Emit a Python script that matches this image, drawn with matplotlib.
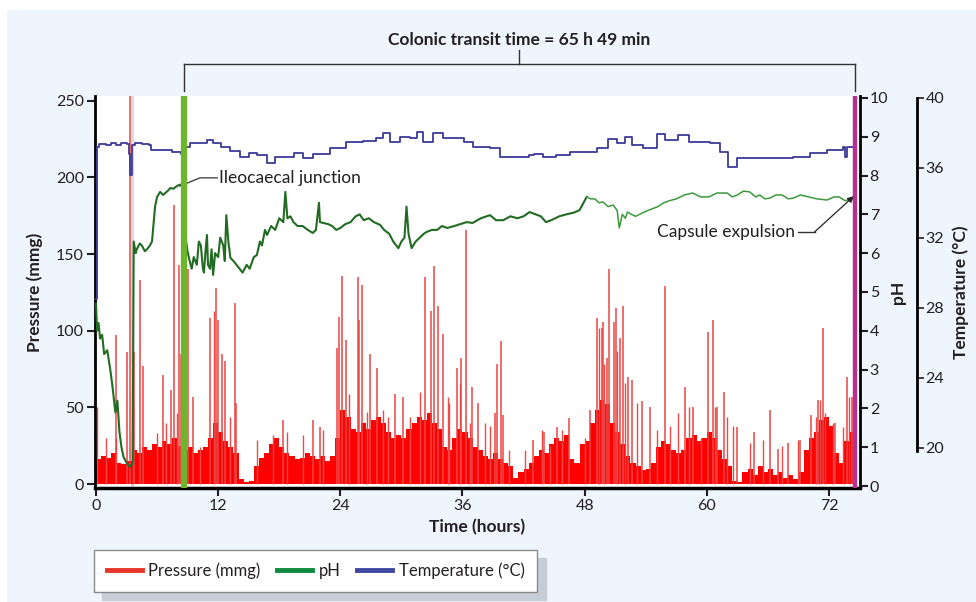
import numpy as np
import matplotlib
matplotlib.use('Agg')
import matplotlib.pyplot as plt
from matplotlib.lines import Line2D
from matplotlib.patches import Rectangle

plt.rcParams['font.family'] = ['Lato', 'DejaVu Sans']
plt.rcParams['text.color'] = '#231f20'
plt.rcParams['axes.labelcolor'] = '#231f20'
plt.rcParams['xtick.color'] = '#231f20'
plt.rcParams['ytick.color'] = '#231f20'

# ---- data ----
# pressure baseline, one value every half hour from 0 h
pressure_base = [
    16, 18, 17, 20, 14, 13, 15, 22, 20, 24,
    22, 26, 24, 28, 26, 30, 25, 22, 24, 20,
    22, 24, 30, 40, 34, 28, 24, 20, 3, 1,
    2, 12, 17, 20, 26, 30, 24, 20, 18, 16,
    17, 20, 18, 16, 18, 15, 18, 30, 48, 44,
    36, 34, 40, 36, 42, 44, 40, 34, 30, 32,
    30, 36, 40, 44, 42, 46, 40, 36, 24, 22,
    30, 36, 34, 30, 24, 22, 18, 16, 20, 16,
    14, 12, 4, 8, 10, 14, 18, 22, 20, 26,
    30, 28, 32, 16, 14, 26, 28, 40, 48, 55,
    52, 40, 34, 26, 18, 14, 12, 9, 10, 14,
    24, 28, 26, 22, 20, 22, 30, 32, 28, 30,
    34, 30, 22, 16, 12, 2, 1, 8, 10, 6,
    12, 8, 10, 6, 8, 4, 6, 3, 8, 22,
    30, 34, 42, 44, 38, 20, 14, 28, 34, 60,
]

# big contractions (time h, pressure mmHg)
spike_t = [1.96, 3.0, 3.3, 3.73, 4.3, 4.6, 6.6, 7.4, 7.7, 8.2,
           8.3, 9.0, 9.5, 11.2, 11.8, 12.0, 12.4, 12.7, 13.7, 13.8,
           18.4, 21.3, 22.0, 23.7, 23.9, 24.2, 24.6, 25.7, 25.8, 26.1,
           26.9, 27.6, 29.4, 30.2, 32.3, 32.9, 33.2, 33.6, 34.1, 35.5,
           35.9, 36.3, 36.9, 37.5, 39.2, 39.4, 39.8, 40.0, 42.9, 44.0,
           45.3, 46.5, 48.5, 49.2, 49.7, 49.8, 50.2, 50.4, 50.9, 51.1,
           51.5, 51.8, 52.3, 52.7, 53.6, 54.4, 55.9, 57.9, 58.6, 60.1,
           60.6, 61.0, 61.7, 63.0, 64.6, 66.2, 67.0, 68.0, 69.2, 70.2,
           70.9, 71.4, 72.6, 73.8, 74.3]
spike_p = [97, 86, 255, 86, 133, 77, 71, 61, 182, 143,
           85, 140, 57, 108, 128, 107, 85, 80, 118, 53,
           42, 42, 37, 89, 109, 136, 94, 135, 107, 130,
           85, 76, 59, 57, 135, 113, 142, 116, 98, 76,
           82, 166, 63, 53, 46, 78, 93, 45, 29, 34,
           37, 43, 48, 108, 102, 106, 82, 140, 106, 115,
           95, 116, 70, 68, 54, 50, 129, 63, 50, 99,
           107, 50, 60, 37, 34, 48, 23, 27, 29, 45,
           55, 102, 40, 70, 57]

# smaller contractions
minor_t = [0.1, 1.0, 2.0, 3.6, 6.0, 6.9, 7.95, 10.2, 11.6, 13.2,
           15.8, 17.4, 18.8, 20.3, 22.3, 24.9, 26.6, 28.2, 28.7, 30.8,
           31.8, 34.6, 34.7, 35.8, 36.7, 38.2, 38.7, 40.6, 42.1, 43.8,
           44.6, 45.8, 48.0, 49.4, 49.9, 51.2, 52.0, 53.1, 55.1, 56.4,
           57.2, 58.3, 59.4, 60.8, 62.0, 62.6, 64.2, 65.5, 67.4, 69.0,
           70.7, 71.1, 71.6, 72.4, 73.4, 74.0]
minor_p = [50, 30, 30, 50, 33, 40, 46, 24, 113, 44,
           29, 32, 34, 32, 35, 59, 47, 48, 44, 44,
           60, 57, 53, 66, 40, 40, 38, 22, 22, 35,
           25, 35, 30, 102, 78, 87, 66, 53, 35, 38,
           46, 50, 30, 50, 44, 38, 27, 29, 25, 29,
           44, 55, 46, 40, 37, 57]

ph_t = [0.0, 0.1, 0.25, 0.4, 0.6, 0.8, 1.1, 1.4, 1.6, 1.9,
        2.1, 2.3, 2.5, 2.7, 3.0, 3.3, 3.5, 3.6, 3.7, 3.9,
        4.0, 4.3, 4.5, 4.8, 5.0, 5.3, 5.5, 5.8, 6.0, 6.3,
        6.6, 6.8, 7.1, 7.3, 7.6, 7.8, 8.0, 8.25, 8.6, 8.8,
        9.0, 9.2, 9.4, 9.6, 9.9, 10.1, 10.3, 10.5, 10.6, 10.8,
        10.9, 11.0, 11.2, 11.35, 11.5, 11.7, 12.0, 12.2, 12.5, 12.65,
        12.8, 13.0, 13.2, 13.5, 13.8, 14.1, 14.4, 14.8, 15.1, 15.5,
        15.8, 16.1, 16.3, 16.6, 16.8, 17.2, 17.6, 18.0, 18.4, 18.6,
        18.8, 19.1, 19.4, 19.8, 20.3, 20.8, 21.3, 21.6, 21.9, 22.0,
        22.3, 22.8, 23.2, 23.6, 24.0, 24.5, 25.0, 25.5, 25.9, 26.3,
        26.8, 27.3, 27.9, 28.3, 28.8, 29.2, 29.7, 30.0, 30.3, 30.5,
        30.7, 31.0, 31.4, 31.8, 32.2, 32.5, 33.0, 33.5, 34.0, 34.5,
        35.2, 35.8, 36.4, 37.0, 37.8, 38.7, 39.3, 40.0, 40.7, 41.4,
        42.0, 42.6, 43.2, 43.7, 44.2, 44.8, 45.5, 46.2, 47.0, 47.5,
        48.2, 48.6, 49.0, 49.4, 49.8, 50.3, 50.8, 51.2, 51.4, 51.7,
        52.0, 52.2, 52.6, 53.0, 53.7, 54.2, 54.7, 55.2, 55.7, 56.3,
        57.0, 57.8, 58.6, 59.4, 60.2, 61.0, 62.0, 62.5, 63.0, 63.6,
        64.2, 64.8, 65.2, 65.7, 66.2, 66.8, 67.4, 68.0, 68.5, 69.2,
        70.0, 70.8, 71.8, 72.5, 73.0, 73.6, 74.4]
ph_vals = [4.7, 4.0, 4.2, 3.8, 3.9, 3.4, 3.5, 3.0, 2.6, 1.9,
           2.2, 1.4, 1.0, 0.75, 0.6, 0.5, 0.55, 0.6, 6.3, 6.0,
           6.1, 6.25, 6.2, 6.05, 6.1, 6.2, 6.3, 7.2, 7.45, 7.58,
           7.5, 7.55, 7.62, 7.68, 7.66, 7.7, 7.74, 7.76, 7.8, 6.4,
           6.03, 5.8, 5.6, 5.9, 5.7, 6.3, 6.2, 5.6, 5.5, 6.2,
           6.47, 5.7, 5.6, 6.1, 5.44, 6.0, 5.9, 6.4, 6.2, 5.8,
           6.98, 6.3, 5.88, 5.8, 5.7, 5.6, 5.5, 5.7, 5.6, 5.9,
           5.95, 6.3, 6.2, 6.6, 6.47, 6.7, 6.6, 6.9, 6.8, 7.58,
           6.9, 6.95, 6.8, 6.7, 6.7, 6.6, 6.52, 6.6, 7.3, 6.8,
           6.78, 6.75, 6.7, 6.6, 6.65, 6.75, 6.8, 6.95, 7.0, 6.85,
           6.9, 6.8, 6.73, 6.6, 6.5, 6.3, 6.13, 6.3, 6.4, 7.2,
           6.5, 6.13, 6.3, 6.4, 6.5, 6.55, 6.6, 6.6, 6.7, 6.65,
           6.7, 6.75, 6.8, 6.78, 6.9, 6.98, 6.85, 6.85, 6.95, 6.9,
           6.95, 7.06, 7.0, 6.95, 6.8, 6.86, 6.95, 7.0, 7.05, 7.11,
           7.45, 7.4, 7.4, 7.3, 7.32, 7.2, 7.24, 7.1, 6.65, 7.0,
           6.9, 7.06, 7.0, 6.95, 7.04, 7.1, 7.15, 7.2, 7.29, 7.35,
           7.4, 7.5, 7.55, 7.45, 7.45, 7.55, 7.55, 7.45, 7.5, 7.6,
           7.58, 7.45, 7.5, 7.4, 7.42, 7.5, 7.5, 7.4, 7.42, 7.5,
           7.45, 7.4, 7.37, 7.45, 7.45, 7.35, 7.42]

temp_t = [0.0, 0.1, 0.3, 1.0, 1.5, 2.0, 2.5, 3.0, 3.2, 3.35,
          3.5, 3.8, 4.5, 5.2, 5.4, 6.5, 7.5, 8.3, 8.8, 9.2,
          10.0, 10.9, 11.5, 12.3, 13.2, 14.1, 15.0, 15.8, 16.8, 17.6,
          18.6, 19.4, 20.3, 21.3, 23.0, 24.6, 26.2, 27.5, 28.2, 28.9,
          29.9, 30.8, 31.5, 32.1, 33.1, 34.1, 36.1, 37.0, 38.7, 39.7,
          41.4, 42.5, 43.0, 43.9, 45.2, 46.6, 49.2, 50.3, 51.2, 52.0,
          52.7, 53.7, 55.1, 55.9, 57.2, 58.3, 60.3, 61.3, 62.1, 63.0,
          65.2, 68.5, 70.1, 71.8, 73.4, 73.6, 73.8, 74.6]
temps = [28.5, 37.2, 37.35, 37.3, 37.45, 37.3, 37.4, 37.35, 36.8, 35.6,
         37.3, 37.43, 37.35, 37.3, 37.0, 37.05, 36.9, 36.8, 37.2, 37.45,
         37.4, 37.6, 37.4, 37.2, 36.95, 36.65, 36.85, 36.75, 36.3, 36.6,
         36.63, 36.86, 36.57, 36.8, 37.14, 37.5, 37.55, 37.7, 38.0, 37.5,
         37.77, 37.7, 38.06, 37.5, 38.0, 37.71, 37.5, 37.2, 37.14, 36.63,
         36.63, 36.75, 36.8, 36.63, 36.75, 36.9, 37.14, 37.66, 37.43, 37.77,
         37.3, 37.14, 37.94, 37.6, 37.89, 37.5, 37.43, 36.9, 36.06, 36.57,
         36.57, 36.63, 36.86, 37.03, 37.2, 36.6, 37.2, 37.3]

ileocaecal_h = 8.6
expulsion_h = 74.6
x_ticks = [0, 12, 24, 36, 48, 60, 72]

# ---- figure ----
fig = plt.figure(figsize=(9.76, 6.02), dpi=100, facecolor='white')
fig.patches.append(Rectangle((7 / 976, 0), 1, 1 - 10 / 602, transform=fig.transFigure,
                             facecolor='#eef5fd', edgecolor='none', zorder=-10))

ax = fig.add_axes([95 / 976, 1 - 488 / 602, (860 - 95) / 976, (488 - 96) / 602])
ax.set_facecolor('white')
ax_ph = ax.twinx()
ax_t = ax.twinx()

base_t = np.arange(len(pressure_base)) * 0.5
ax.axvline(3.55, color='#dddddd', lw=2.5, zorder=0)
ax.fill_between(base_t, pressure_base, step='post', color='#ff0000', lw=0)
ax.vlines(minor_t, 0, minor_p, color='#f04848', lw=1.0)
ax.vlines(spike_t, 0, spike_p, color='#ec4545', lw=1.1)
ax.set_xlim(-0.1, 75.05)
ax.set_ylim(-2.6, 253.1)
ax.set_yticks([0, 50, 100, 150, 200, 250])
ax.set_xticks(x_ticks)
ax.set_xlabel('Time (hours)', fontsize=12.5, fontweight='bold', labelpad=4)
ax.set_ylabel('Pressure (mmg)', fontsize=12.5, fontweight='bold', labelpad=9)
for s in ['top', 'right']:
    ax.spines[s].set_visible(False)
ax.spines['left'].set_linewidth(2)
ax.spines['bottom'].set_linewidth(2.5)
ax.tick_params(axis='both', direction='out', length=6, width=1.5, labelsize=11.5, pad=2)

# pH trace: darker before 48 h, lighter afterwards (as in the reference)
ph_t = np.array(ph_t)
ph_vals = np.array(ph_vals)
split = int(np.searchsorted(ph_t, 48.2)) + 1
ax_ph.plot(ph_t[:split], ph_vals[:split], color='#226b22', lw=1.5, zorder=3)
ax_ph.plot(ph_t[split - 1:], ph_vals[split - 1:], color='#3c9a3c', lw=1.1, zorder=3)
ax_ph.set_ylim(-0.05, 10.05)
ax_ph.set_yticks(range(0, 11))
ax_ph.set_ylabel('pH', fontsize=12.5, fontweight='bold', labelpad=1)
for s in ['top', 'left', 'bottom']:
    ax_ph.spines[s].set_visible(False)
ax_ph.spines['right'].set_linewidth(2)
ax_ph.tick_params(axis='y', direction='out', length=6, width=1.5, labelsize=11.5, pad=1)

ax_t.plot(temp_t, temps, color='#3c3a98', lw=1.3, zorder=3, drawstyle='steps-post')
ax_t.set_ylim(17.71, 40.11)
ax_t.set_yticks([20, 24, 28, 32, 36, 40])
ax_t.spines['right'].set_position(('axes', 1.0745))
ax_t.spines['right'].set_bounds(19.8, 40)
ax_t.spines['right'].set_linewidth(2)
for s in ['top', 'left', 'bottom']:
    ax_t.spines[s].set_visible(False)
ax_t.tick_params(axis='y', direction='out', length=5, width=1.2, labelsize=11.5, pad=1)
ax_t.set_ylabel('Temperature (°C)', fontsize=12.5, fontweight='bold', labelpad=6)

# marker bars on top of the traces
ax_t.axvline(ileocaecal_h, color='#6cb52d', lw=4.5, zorder=5)
ax_t.axvline(expulsion_h, color='#b5308f', lw=3.2, zorder=5)

# annotations (in pH units)
ax_ph.plot([11.9, 10.2, 8.25], [7.94, 7.94, 7.73], color='#444444', lw=1.0, zorder=6)
ax_ph.text(12.1, 7.94, 'Ileocaecal junction', fontsize=12.5, va='center', ha='left')
ax_ph.text(68.7, 6.55, 'Capsule expulsion', fontsize=12.5, va='center', ha='right')
ax_ph.plot([68.95, 70.6], [6.55, 6.55], color='#333333', lw=1.0, zorder=6)
ax_ph.annotate('', xy=(74.45, 7.47), xytext=(70.6, 6.55),
               arrowprops=dict(arrowstyle='-|>', color='#222222', lw=0.9,
                               mutation_scale=9, shrinkA=0, shrinkB=0), zorder=7)

# bracket + title above the plot
def fx(px):
    return px / 976

def fy(py):
    return 1 - py / 602

xl = 96 + ileocaecal_h * 10.18
xr = 96 + expulsion_h * 10.18
xm = (xl + xr) / 2
for xs, ys in [([xl, xr], [64, 64]), ([xl, xl], [64, 91]), ([xr, xr], [64, 91]), ([xm, xm], [50, 64])]:
    fig.add_artist(Line2D([fx(v) for v in xs], [fy(v) for v in ys], color='#333333', lw=1.0))
fig.text(fx(xm), fy(40), 'Colonic transit time = 65 h 49 min', fontsize=12.5,
         fontweight='bold', ha='center', va='center')

handles = [Line2D([], [], color='#e8352a', lw=3.5),
           Line2D([], [], color='#0f8a3c', lw=3.5),
           Line2D([], [], color='#3f48a0', lw=3.5)]
leg = fig.legend(handles, ['Pressure (mmg)', 'pH', 'Temperature (°C)'],
                 loc='upper left', bbox_to_anchor=(fx(94), fy(550)), ncol=3,
                 fontsize=12, frameon=True, fancybox=False, borderaxespad=0,
                 handlelength=2.1, handletextpad=0.4, columnspacing=1.0,
                 borderpad=0.75,
                 shadow={'color': '#c6cdd7', 'alpha': 1, 'ox': 6, 'oy': -6})
leg.get_frame().set_edgecolor('#8a8a8a')
leg.get_frame().set_linewidth(1.0)

fig.savefig('out.png', dpi=100)
